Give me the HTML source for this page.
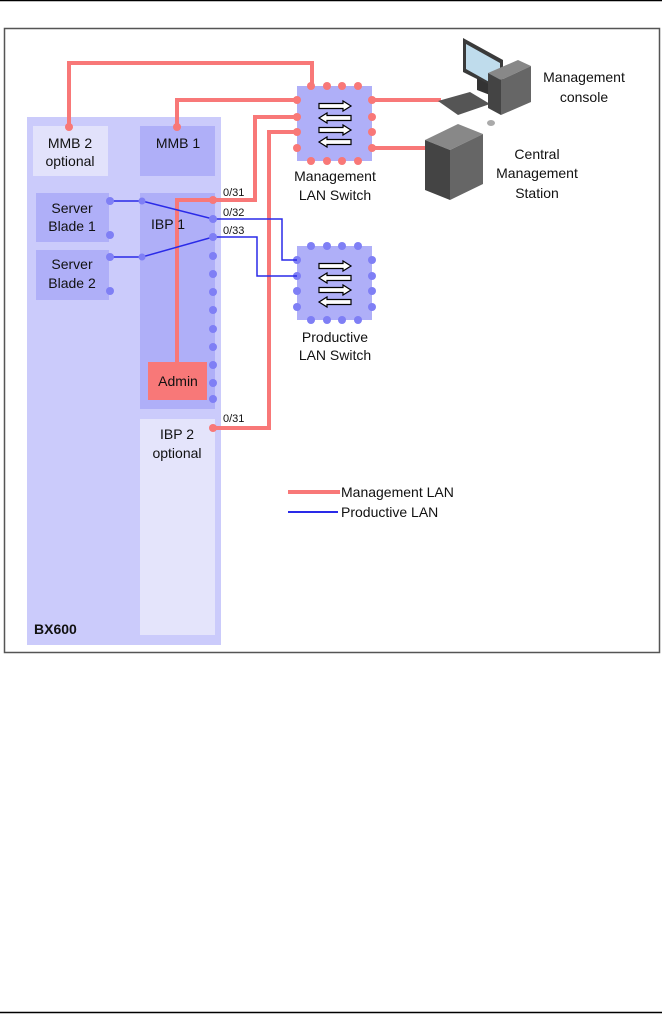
<!DOCTYPE html>
<html><head><meta charset="utf-8"><style>
html,body{margin:0;padding:0;background:#fff;width:662px;height:1014px;overflow:hidden}
text{font-family:"Liberation Sans",Arial,sans-serif;fill:#111}
</style></head><body>
<svg width="662" height="1014" viewBox="0 0 662 1014" xmlns="http://www.w3.org/2000/svg">
<line x1="0" y1="0.5" x2="662" y2="0.5" stroke="#000" stroke-width="1.5"/>
<line x1="0" y1="1012.5" x2="662" y2="1012.5" stroke="#000" stroke-width="1.5"/>
<rect x="4.5" y="28.5" width="655" height="624" fill="#fff" stroke="#555" stroke-width="1.5"/>

<rect x="27" y="117" width="194" height="528" fill="#cbcbfb"/>
<rect x="33" y="126" width="75" height="50" fill="#e2e2fb"/>
<rect x="140" y="126" width="75" height="50" fill="#afaff8"/>
<rect x="36" y="193" width="73" height="49" fill="#afaff8"/>
<rect x="36" y="250" width="73" height="50" fill="#afaff8"/>
<rect x="140" y="193" width="75" height="216" fill="#afaff8"/>
<rect x="140" y="419" width="75" height="216" fill="#e4e4fb"/>
<rect x="148" y="362" width="59" height="38" fill="#f87878"/>

<rect x="297" y="86" width="75" height="75" fill="#afaff8"/>
<rect x="297" y="246" width="75" height="74" fill="#afaff8"/>
<g fill="#f87878">
<circle cx="311" cy="86" r="4"/><circle cx="327" cy="86" r="4"/><circle cx="342" cy="86" r="4"/><circle cx="358" cy="86" r="4"/>
<circle cx="311" cy="161" r="4"/><circle cx="327" cy="161" r="4"/><circle cx="342" cy="161" r="4"/><circle cx="358" cy="161" r="4"/>
<circle cx="297" cy="100" r="4"/><circle cx="297" cy="117" r="4"/><circle cx="297" cy="132" r="4"/><circle cx="297" cy="148" r="4"/>
<circle cx="372" cy="100" r="4"/><circle cx="372" cy="117" r="4"/><circle cx="372" cy="132" r="4"/><circle cx="372" cy="148" r="4"/>
</g>
<g fill="#7f7ff5">
<circle cx="311" cy="246" r="4"/><circle cx="327" cy="246" r="4"/><circle cx="342" cy="246" r="4"/><circle cx="358" cy="246" r="4"/>
<circle cx="311" cy="320" r="4"/><circle cx="327" cy="320" r="4"/><circle cx="342" cy="320" r="4"/><circle cx="358" cy="320" r="4"/>
<circle cx="297" cy="260" r="4"/><circle cx="297" cy="276" r="4"/><circle cx="297" cy="291" r="4"/><circle cx="297" cy="307" r="4"/>
<circle cx="372" cy="260" r="4"/><circle cx="372" cy="276" r="4"/><circle cx="372" cy="291" r="4"/><circle cx="372" cy="307" r="4"/>
</g>
<defs>
<g id="arr"><polygon points="0,-2.5 24,-2.5 24,-5 32,0 24,5 24,2.5 0,2.5" fill="#fff" stroke="#000" stroke-width="1.2"/></g>
<g id="arl"><polygon points="32,-2.5 8,-2.5 8,-5 0,0 8,5 8,2.5 32,2.5" fill="#fff" stroke="#000" stroke-width="1.2"/></g>
</defs>
<use href="#arr" x="319" y="106"/><use href="#arl" x="319" y="118"/><use href="#arr" x="319" y="130"/><use href="#arl" x="319" y="142"/>
<use href="#arr" x="319" y="266"/><use href="#arl" x="319" y="278"/><use href="#arr" x="319" y="290"/><use href="#arl" x="319" y="302"/>

<g fill="none" stroke="#f87878" stroke-width="4">
<polyline points="69,126 69,63 312,63 312,86"/>
<polyline points="177,126 177,100 297,100"/>
<polyline points="177,362 177,200 255,200 255,117 297,117"/>
<polyline points="213,428 269,428 269,132 297,132"/>
<line x1="372" y1="100" x2="441" y2="100"/>
<line x1="372" y1="148" x2="426" y2="148"/>
<line x1="288" y1="492" x2="340" y2="492"/>
</g>
<g fill="none" stroke="#2a2ae8" stroke-width="1.5">
<polyline points="110,201 142,201 213,219 282,219 282,260 297,260"/>
<polyline points="110,257 142,257 213,237 257,237 257,276 297,276"/>
<line x1="288" y1="512" x2="338" y2="512" stroke-width="2"/>
</g>
<g fill="#7f7ff5">
<circle cx="110" cy="201" r="4"/><circle cx="110" cy="235" r="4"/>
<circle cx="110" cy="257" r="4"/><circle cx="110" cy="291" r="4"/>
<circle cx="142" cy="201" r="3.5"/><circle cx="142" cy="257" r="3.5"/>
<circle cx="213" cy="219" r="4"/><circle cx="213" cy="237" r="4"/><circle cx="213" cy="256" r="4"/>
<circle cx="213" cy="274" r="4"/><circle cx="213" cy="292" r="4"/><circle cx="213" cy="310" r="4"/>
<circle cx="213" cy="329" r="4"/><circle cx="213" cy="347" r="4"/><circle cx="213" cy="365" r="4"/>
<circle cx="213" cy="383" r="4"/><circle cx="213" cy="399" r="4"/>
</g>
<g fill="#f87878">
<circle cx="213" cy="200" r="4"/><circle cx="213" cy="428" r="4"/>
<circle cx="69" cy="127" r="4"/><circle cx="177" cy="127" r="4"/>
</g>

<g>
<polygon points="438,101 470,92 490,104 458,115" fill="#555"/>
<polygon points="463,38 503,60 503,92 463,72" fill="#3a3a3a"/>
<polygon points="466,44 500,63 500,88 466,69" fill="#bfdcec"/>
<polygon points="477,78 490,85 490,95 477,90" fill="#333"/>
<polygon points="488,73 518,60 531,66 501,80" fill="#888"/>
<polygon points="488,73 501,80 501,115 488,108" fill="#444"/>
<polygon points="501,80 531,66 531,102 501,115" fill="#666"/>
<ellipse cx="491" cy="123" rx="4" ry="3" fill="#aaa"/>
<polygon points="425,140 458,124 483,134 450,150" fill="#888"/>
<polygon points="425,140 450,150 450,200 425,190" fill="#444"/>
<polygon points="450,150 483,134 483,184 450,200" fill="#666"/>
</g>

<g font-size="14">
<text x="70" y="148" text-anchor="middle">MMB 2</text>
<text x="70" y="166" text-anchor="middle">optional</text>
<text x="178" y="148" text-anchor="middle">MMB 1</text>
<text x="72" y="213" text-anchor="middle">Server</text>
<text x="72" y="231" text-anchor="middle">Blade 1</text>
<text x="72" y="269" text-anchor="middle">Server</text>
<text x="72" y="288" text-anchor="middle">Blade 2</text>
<text x="168" y="229" text-anchor="middle">IBP 1</text>
<text x="178" y="386" text-anchor="middle">Admin</text>
<text x="177" y="439" text-anchor="middle">IBP 2</text>
<text x="177" y="458" text-anchor="middle">optional</text>
<text x="335" y="181" text-anchor="middle">Management</text>
<text x="335" y="200" text-anchor="middle">LAN Switch</text>
<text x="335" y="342" text-anchor="middle">Productive</text>
<text x="335" y="360" text-anchor="middle">LAN Switch</text>
<text x="584" y="82" text-anchor="middle">Management</text>
<text x="584" y="102" text-anchor="middle">console</text>
<text x="537" y="159" text-anchor="middle">Central</text>
<text x="537" y="178" text-anchor="middle">Management</text>
<text x="537" y="198" text-anchor="middle">Station</text>
<text x="341" y="497">Management LAN</text>
<text x="341" y="517">Productive LAN</text>
<text x="34" y="634" font-weight="bold">BX600</text>
</g>
<g font-size="11">
<text x="223" y="196">0/31</text>
<text x="223" y="216">0/32</text>
<text x="223" y="234">0/33</text>
<text x="223" y="422">0/31</text>
</g>
</svg>
</body></html>
